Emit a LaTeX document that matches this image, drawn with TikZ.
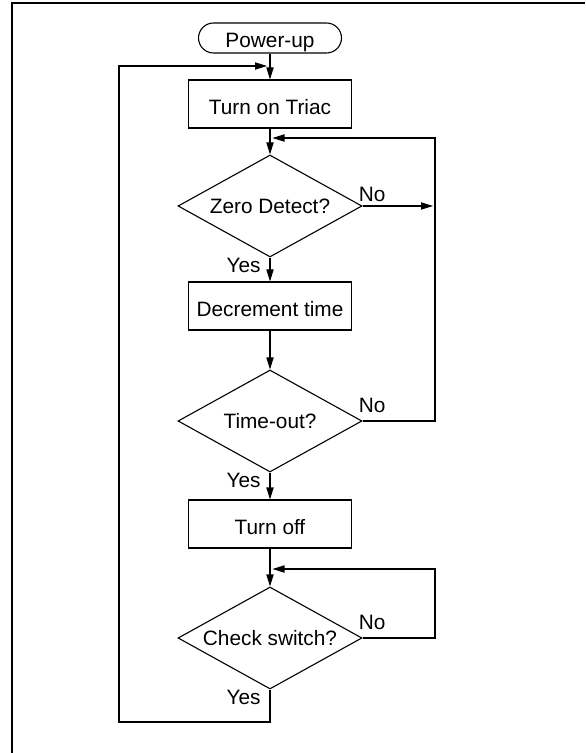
\documentclass[tikz,border=0pt]{standalone}
\usepackage{fontspec}
\setmainfont{Liberation Sans}
\usetikzlibrary{shapes.geometric,arrows.meta}

\begin{document}
\begin{tikzpicture}[x=0.5pt,y=-0.5pt,font=\fontsize{10.4}{12}\selectfont]
	\tikzstyle{startstop}=[draw=black, line width=0.55pt, rounded corners=7.5pt, minimum width=71.5pt, minimum height=15pt, inner sep=0pt, text height=9.5pt, text depth=0pt]
	\tikzstyle{process}=[draw=black, line width=0.55pt, minimum width=81.5pt, minimum height=24pt, inner sep=0pt, text height=10.5pt, text depth=0pt]
	\tikzstyle{decision}=[diamond, aspect=1.8, draw=black, line width=0.55pt, minimum width=92pt, minimum height=51pt, inner sep=0pt]
	\tikzstyle{flow}=[-{Triangle[length=6pt,width=3.6pt]}, line width=0.55pt]
	\tikzstyle{answer}=[inner sep=0pt]
	
	\useasboundingbox (0,0) rectangle (585,753);
	\draw [line width=1pt] (12,753) -- (12,3.5) -- (585,3.5);
	
	% Steps
	\node at (270,38) [startstop] (power) {Power-up};
	\node at (270,104) [process] (triac) {Turn on Triac};
	\node at (270,206) [decision] (zero) {Zero Detect?};
	\node at (270,306) [process] (dec) {Decrement time};
	\node at (270,421) [decision] (timeout) {Time-out?};
	\node at (270,524) [process] (off) {Turn off};
	\node at (270,638) [decision] (check) {Check switch?};
	
	% Loop corners
	\coordinate (backbot) at (119,722);
	\coordinate (backtop) at (270,66);
	\coordinate (zerotop) at (270,138);
	\coordinate (zeroright) at (435,138);
	\coordinate (checktop) at (270,569);
	\coordinate (checkright) at (435,569);
	
	\draw [flow] (power) -- (triac);
	\draw [flow] (triac) -- (zero);
	\draw [flow] (zero) -- (dec);
	\draw [flow] (dec) -- (timeout);
	\draw [flow] (timeout) -- (off);
	\draw [flow] (off) -- (check);
	\draw [flow, shorten >=1.5pt] (check.south) |- (backbot) |- (backtop);
	\draw [flow, shorten >=1pt] (zero.east) -- (zero.east -| zeroright);
	\draw [flow, shorten >=1.25pt] (timeout.east) -| (zeroright) -- (zerotop);
	\draw [flow, shorten >=1.25pt] (check.east) -| (checkright) -- (checktop);
	
	% Answers
	\node [answer, anchor=south west] at ([xshift=-2pt, yshift=2pt]zero.east) {No};
	\node [answer, anchor=south west] at ([xshift=-2pt, yshift=4pt]timeout.east) {No};
	\node [answer, anchor=south west] at ([xshift=-2pt, yshift=4pt]check.east) {No};
	\node [answer, anchor=north east] at ([xshift=-4.5pt]zero.south) {Yes};
	\node [answer, anchor=north east] at ([xshift=-4.5pt]timeout.south) {Yes};
	\node [answer, anchor=north east] at ([xshift=-4.5pt]check.south) {Yes};
\end{tikzpicture}
\end{document}
